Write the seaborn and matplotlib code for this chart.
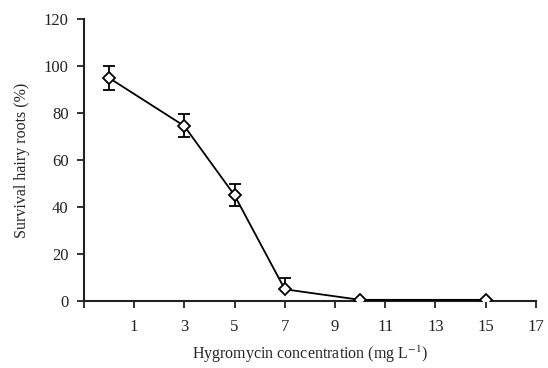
import numpy as np
import pandas as pd
import seaborn as sns
import matplotlib.pyplot as plt

# hygromycin concentration (mg/L) and survival of hairy roots (%)
concentration = [0, 3, 5, 7, 10, 15]
survival = [95, 74.5, 45, 5, 0.5, 0.5]
err_low = [5, 4.5, 4.5, 0, 0, 0]
err_high = [5, 5, 5, 5, 0, 0]
x_ticks = [-1, 1, 3, 5, 7, 9, 11, 13, 15, 17]
x_tick_labels = ['', '1', '3', '5', '7', '9', '11', '13', '15', '17']
y_ticks = [0, 20, 40, 60, 80, 100, 120]

sns.set_style('ticks')
plt.rcParams['font.family'] = ['Liberation Serif', 'DejaVu Serif']
plt.rcParams['mathtext.fontset'] = 'stix'

data = pd.DataFrame({'conc': concentration, 'surv': survival})

fig = plt.figure(figsize=(5.48, 3.68), dpi=100)
ax = fig.add_axes([0.153, 0.182, 0.825, 0.766])

ax.errorbar(data['conc'], data['surv'], yerr=[err_low, err_high], fmt='none',
            ecolor='black', elinewidth=1.3, capsize=4, capthick=1.3, zorder=2)
sns.lineplot(x='conc', y='surv', data=data, ax=ax, color='black', linewidth=1.3,
             marker='D', markersize=6.3, markerfacecolor='white',
             markeredgecolor='black', markeredgewidth=1.3, zorder=3)

ax.set_xlim(-1, 17)
ax.set_ylim(0, 120)
ax.set_xticks(x_ticks)
ax.set_xticklabels(x_tick_labels)
ax.set_yticks(y_ticks)
ax.tick_params(direction='out', length=5, width=1.3, labelsize=12, colors='#222222')
ax.tick_params(axis='y', pad=6)
ax.tick_params(axis='x', pad=8)
for side in ['left', 'bottom']:
    ax.spines[side].set_linewidth(1.5)
    ax.spines[side].set_color('#222222')
sns.despine(ax=ax)

ax.set_xlabel('Hygromycin concentration (mg L$^{-1}$)', fontsize=11.5, labelpad=6)
ax.set_ylabel('Survival hairy roots (%)', fontsize=11.5, labelpad=10)

fig.savefig('out.png', dpi=100)
